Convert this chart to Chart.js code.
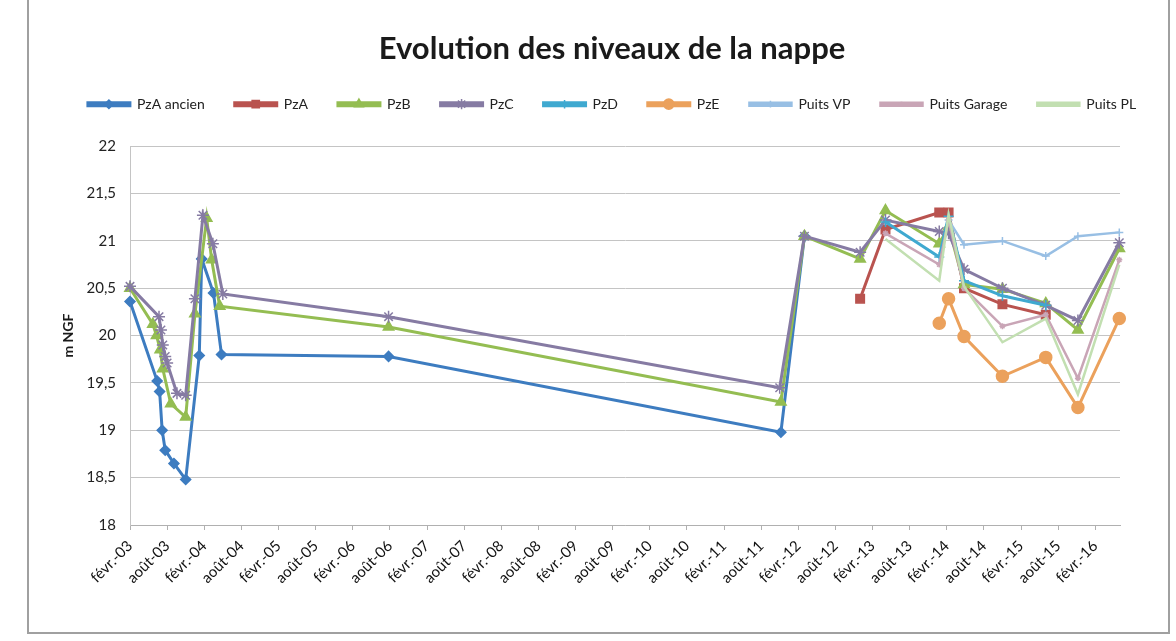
<!DOCTYPE html>
<html lang="fr">
<head>
<meta charset="utf-8">
<title>Evolution des niveaux de la nappe</title>
<script src="https://cdn.jsdelivr.net/npm/chart.js@4.4.1/dist/chart.umd.min.js"></script>
<style>
  html, body { margin: 0; padding: 0; background: #fff; }
  #wrap { position: relative; width: 1176px; height: 641px; overflow: hidden; }
  #frame { position: absolute; left: 27px; top: -4px; width: 1139px; height: 634px; border: 2px solid #a0a0a0; pointer-events: none; }
  canvas { position: absolute; left: 0; top: 0; }
</style>
</head>
<body>
<div id="wrap">
  <canvas id="chart" width="1176" height="641"></canvas>
  <div id="frame"></div>
</div>
<script>
// tick labels, one every 6 months from févr.-03
const xTickLabels = [
  'févr.-03', 'août-03', 'févr.-04', 'août-04', 'févr.-05', 'août-05', 'févr.-06', 'août-06',
  'févr.-07', 'août-07', 'févr.-08', 'août-08', 'févr.-09', 'août-09', 'févr.-10', 'août-10',
  'févr.-11', 'août-11', 'févr.-12', 'août-12', 'févr.-13', 'août-13', 'févr.-14', 'août-14',
  'févr.-15', 'août-15', 'févr.-16'
];

const pzaAncienDates = ['2003-02-01', '2003-06-13', '2003-06-25', '2003-07-07', '2003-07-22', '2003-09-04', '2003-11-01',
  '2004-01-07', '2004-01-19', '2004-03-16', '2004-04-25', '2006-07-25', '2011-11-07', '2012-03-01'];
const pzaAncienLevels = [20.36, 19.52, 19.41, 19.00, 18.79, 18.65, 18.48, 19.79, 20.81, 20.45, 19.80, 19.78, 18.98, 21.05];

const pzaDates = ['2012-12-01', '2013-04-04', '2013-12-25', '2014-02-10', '2014-04-25', '2014-11-01', '2015-06-01'];
const pzaLevels = [20.39, 21.12, 21.30, 21.30, 20.50, 20.33, 20.22];

const pzbDates = ['2003-02-01', '2003-05-22', '2003-06-10', '2003-06-28', '2003-07-10', '2003-08-19', '2003-11-01',
  '2003-12-16', '2004-02-13', '2004-03-07', '2004-04-16', '2006-07-25', '2011-11-07', '2012-03-01', '2012-12-01',
  '2013-04-04', '2013-12-25', '2014-02-10', '2014-04-25', '2014-11-01', '2015-06-01', '2015-11-07', '2016-05-28'];
const pzbLevels = [20.50, 20.12, 20.00, 19.85, 19.65, 19.28, 19.14, 20.23, 21.24, 20.80, 20.31, 20.09, 19.30, 21.05, 20.81,
  21.32, 20.97, 21.15, 20.54, 20.49, 20.34, 20.06, 20.92];

const pzcDates = ['2003-02-01', '2003-06-22', '2003-07-01', '2003-07-10', '2003-07-22', '2003-08-01', '2003-09-19',
  '2003-11-01', '2003-12-16', '2004-01-25', '2004-03-13', '2004-05-01', '2006-07-25', '2011-11-01', '2012-03-01',
  '2012-12-01', '2013-04-04', '2013-12-25', '2014-02-10', '2014-04-25', '2014-11-01', '2015-06-01', '2015-11-07', '2016-05-28'];
const pzcLevels = [20.52, 20.20, 20.06, 19.90, 19.78, 19.71, 19.39, 19.37, 20.39, 21.27, 20.97, 20.44, 20.20, 19.45, 21.05,
  20.88, 21.22, 21.10, 21.08, 20.70, 20.50, 20.32, 20.16, 20.98];

const pzdDates = ['2013-04-04', '2013-12-25', '2014-02-10', '2014-04-25', '2014-11-01', '2015-06-01'];
const pzdLevels = [21.20, 20.83, 21.26, 20.58, 20.42, 20.32];

const pzeDates = ['2013-12-25', '2014-02-10', '2014-04-25', '2014-11-01', '2015-06-01', '2015-11-07', '2016-05-28'];
const pzeLevels = [20.13, 20.39, 19.99, 19.57, 19.77, 19.24, 20.18];

const puitsVpDates = ['2014-02-10', '2014-04-25', '2014-11-01', '2015-06-01', '2015-11-07', '2016-05-28'];
const puitsVpLevels = [21.22, 20.96, 21.00, 20.84, 21.05, 21.09];

const puitsGarageDates = ['2013-04-04', '2013-12-25', '2014-02-10', '2014-04-25', '2014-11-01', '2015-06-01', '2015-11-07', '2016-05-28'];
const puitsGarageLevels = [21.08, 20.75, 21.22, 20.50, 20.10, 20.22, 19.55, 20.80];

const puitsPlDates = ['2013-04-04', '2013-12-25', '2014-02-10', '2014-04-25', '2014-11-01', '2015-06-01', '2015-11-07', '2016-05-28'];
const puitsPlLevels = [21.02, 20.58, 21.28, 20.52, 19.93, 20.18, 19.38, 20.75];

// months elapsed since 1 Feb 2003 (first tick)
function toMonths(s) {
  const [y, m, d] = s.split('-').map(Number);
  return (y - 2003) * 12 + (m - 2) + (d - 1) / 30.44;
}

const series = [
  { label: 'PzA ancien', dates: pzaAncienDates, levels: pzaAncienLevels, color: '#3d7cc0', point: 'rectRot', r: 5, w: 3 },
  { label: 'PzA', dates: pzaDates, levels: pzaLevels, color: '#b9534f', point: 'rect', r: 6, w: 3 },
  { label: 'PzB', dates: pzbDates, levels: pzbLevels, color: '#94bd52', point: 'triangle', r: 6, w: 3 },
  { label: 'PzC', dates: pzcDates, levels: pzcLevels, color: '#867ba3', point: 'star', r: 6, w: 3 },
  { label: 'PzD', dates: pzdDates, levels: pzdLevels, color: '#3fa9d0', point: 'cross', r: 5, w: 3 },
  { label: 'PzE', dates: pzeDates, levels: pzeLevels, color: '#eba15c', point: 'circle', r: 6, w: 3 },
  { label: 'Puits VP', dates: puitsVpDates, levels: puitsVpLevels, color: '#98bfe4', point: 'cross', r: 4, w: 2.5 },
  { label: 'Puits Garage', dates: puitsGarageDates, levels: puitsGarageLevels, color: '#c9a5b6', point: 'star', r: 3, w: 2.5 },
  { label: 'Puits PL', dates: puitsPlDates, levels: puitsPlLevels, color: '#c2dfb1', point: 'circle', r: 0, w: 2.5 }
];

Chart.defaults.font.family = 'Lato, "Open Sans", sans-serif';
Chart.defaults.color = '#222';

const isHalfYear = v => Math.abs(v / 6 - Math.round(v / 6)) < 1e-6;

// Excel style legend: marker drawn over the line sample, and some room left under the legend
const legendMarkers = {
  id: 'legendMarkers',
  beforeInit(chart) {
    const legend = chart.legend;
    if (!legend) return;
    const fit = legend.fit;
    legend.fit = function () { fit.call(this); this.height += 25; };
  },
  afterDraw(chart) {
    const legend = chart.legend;
    if (!legend || !legend.legendHitBoxes) return;
    const ctx = chart.ctx;
    legend.legendItems.forEach((item, i) => {
      const box = legend.legendHitBoxes[i];
      const ds = chart.data.datasets[item.datasetIndex];
      if (!box || !ds.pointRadius) return;
      ctx.save();
      ctx.fillStyle = ds.pointBackgroundColor;
      ctx.strokeStyle = ds.pointBorderColor;
      ctx.lineWidth = 1.5;
      Chart.helpers.drawPoint(ctx, { pointStyle: ds.pointStyle, radius: ds.pointRadius * 0.85, borderWidth: 1.5, rotation: 0 },
        box.left + 21, box.top + box.height / 2);
      ctx.restore();
    });
  }
};

new Chart(document.getElementById('chart'), {
  type: 'line',
  data: {
    datasets: series.map((s, i) => ({
      label: s.label,
      data: s.dates.map((d, k) => ({ x: toMonths(d), y: s.levels[k] })),
      borderColor: s.color,
      backgroundColor: s.color,
      pointBackgroundColor: s.color,
      pointBorderColor: s.color,
      pointStyle: s.point,
      pointRadius: s.r,
      pointBorderWidth: 1.5,
      borderWidth: s.w,
      tension: 0,
      clip: false,
      order: series.length - 1 - i
    }))
  },
  options: {
    responsive: false,
    animation: false,
    layout: { padding: { left: 48, right: 0, top: 0, bottom: 10 } },
    plugins: {
      tooltip: { enabled: false },
      title: {
        display: true,
        text: 'Evolution des niveaux de la nappe',
        color: '#1a1a1a',
        font: { size: 31, weight: 'bold' },
        padding: { top: 30, bottom: 0 }
      },
      legend: {
        labels: {
          boxWidth: 42,
          boxHeight: 3,
          padding: 30,
          color: '#222',
          font: { size: 14 },
          sort: (a, b) => a.datasetIndex - b.datasetIndex
        }
      }
    },
    scales: {
      x: {
        type: 'linear',
        min: 0,
        max: 160,
        grid: { display: true, drawOnChartArea: false, drawTicks: true, tickLength: 5, color: '#b0b0b0' },
        border: { color: '#b0b0b0' },
        ticks: {
          stepSize: 6,
          includeBounds: false,
          autoSkip: false,
          minRotation: 45,
          maxRotation: 45,
          padding: 7,
          color: '#111',
          font: { size: 15 },
          callback: v => xTickLabels[Math.round(v / 6)]
        },
        afterBuildTicks: scale => { scale.ticks = scale.ticks.filter(t => isHalfYear(t.value)); },
        afterFit: scale => { scale.height = 106; }
      },
      y: {
        min: 18,
        max: 22,
        grid: { color: '#c4c4c4', drawTicks: false },
        border: { color: '#c4c4c4' },
        ticks: {
          stepSize: 0.5,
          padding: 14,
          color: '#222',
          font: { size: 15 },
          callback: v => String(v).replace('.', ',')
        },
        title: {
          display: true,
          text: 'm NGF',
          color: '#1a1a1a',
          font: { size: 14, weight: 'bold' },
          padding: { top: 12, bottom: 0 }
        },
        afterFit: scale => { scale.width = 82; }
      },
      // empty right-hand box: keeps the plot ending where the reference's does
      yRight: {
        position: 'right',
        display: true,
        grid: { display: false },
        border: { display: false },
        ticks: { display: false },
        afterFit: scale => { scale.width = 56; }
      }
    }
  },
  plugins: [legendMarkers]
});
</script>
</body>
</html>
